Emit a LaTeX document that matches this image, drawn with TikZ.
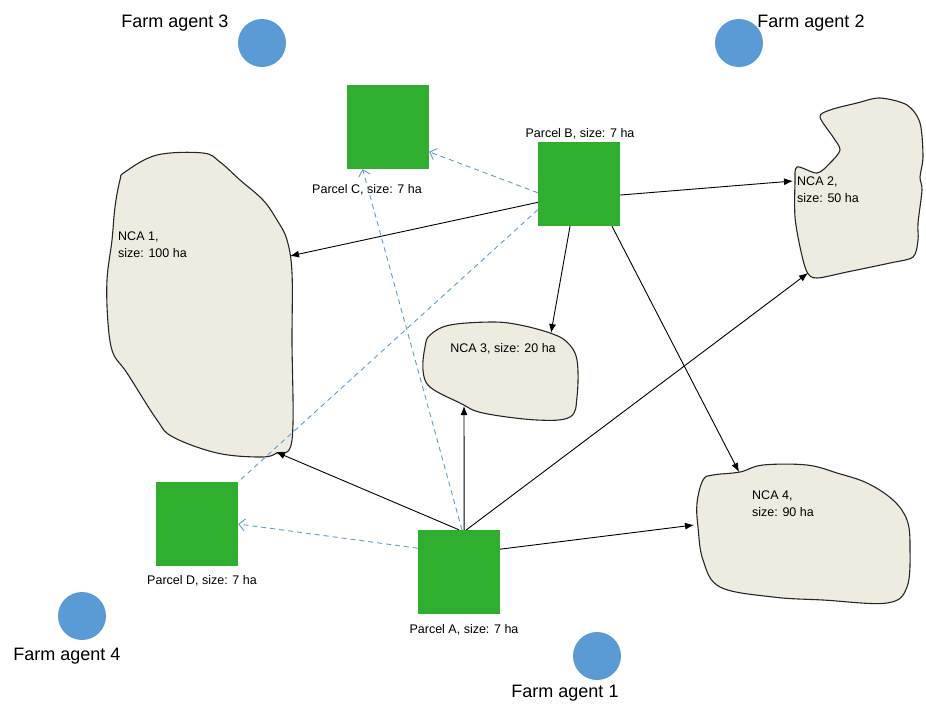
\documentclass[tikz,border=0pt]{standalone}
\usepackage{fontspec}
\setmainfont{Liberation Sans}
\usetikzlibrary{arrows.meta}
\definecolor{parcelgreen}{HTML}{2FAE2F}
\definecolor{agentblue}{HTML}{5B9BD5}
\definecolor{ncafill}{HTML}{EEECE1}

\begin{document}
\begin{tikzpicture}[x=1pt,y=-1pt,
  agent/.style={circle,fill=agentblue,minimum size=48pt,inner sep=0pt},
  parcel/.style={rectangle,fill=parcelgreen,minimum width=82pt,minimum height=84pt,inner sep=0pt},
  area/.style={draw=black!85,fill=ncafill,line width=1.1pt},
  small/.style={font=\fontsize{12.5}{17}\selectfont,inner sep=0pt},
  big/.style={font=\fontsize{18}{22}\selectfont,inner sep=0pt},
  flow/.style={-{Latex[length=9pt,width=7pt]},line width=0.9pt},
  offer/.style={agentblue,line width=0.9pt,dash pattern=on 5pt off 4pt}]
  \useasboundingbox (0,0) rectangle (926,705);

  % nature conservation areas
  \draw[area] plot[smooth cycle,tension=0.6] coordinates {(125,172) (157,155) (203,153) (220,162)
    (240,180) (263,200) (277,220) (287,240) (292,273) (292,340) (292,440) (277,453) (260,457)
    (217,453) (173,437) (157,420) (127,373) (113,353) (108,323) (107,280) (112,240) (115,207) (120,180)};
  \draw[area] plot[smooth cycle,tension=0.5] coordinates {(797,167) (817,173) (830,163) (840,150)
    (833,137) (820,117) (830,110) (857,103) (880,98) (907,105) (920,123) (923,157) (920,177)
    (922,190) (918,223) (918,240) (913,257) (890,263) (847,272) (817,278) (807,272) (800,247)
    (795,217) (795,183)};
  \draw[area] plot[smooth cycle,tension=0.6] coordinates {(430,335) (450,325) (493,322) (520,325)
    (550,333) (567,342) (577,360) (577,397) (570,417) (537,420) (483,413) (460,403) (430,387)
    (423,370) (425,347)};
  \draw[area] plot[smooth cycle,tension=0.6] coordinates {(713,475) (740,472) (763,465) (807,465)
    (837,473) (867,483) (893,500) (907,520) (910,547) (907,587) (887,603) (823,600) (773,597)
    (720,587) (703,560) (698,527) (697,503) (703,480)};

  \node[small,anchor=north west,align=left] (nca1) at (118,232) {NCA 1,\\size: 100 ha};
  \node[small,anchor=north west,align=left] (nca2) at (797,177) {NCA 2,\\size: 50 ha};
  \node[small] (nca3) at (503,349) {NCA 3, size: 20 ha};
  \node[small,anchor=north west,align=left] (nca4) at (752,491) {NCA 4,\\size: 90 ha};

  \coordinate (n1b) at (290,256);
  \coordinate (n1a) at (276,452);
  \coordinate (n2b) at (793,181);
  \coordinate (n2a) at (808,273);
  \coordinate (n3b) at (551,333);
  \coordinate (n3a) at (464,406);
  \coordinate (n4b) at (739,472);
  \coordinate (n4a) at (694,525);

  % parcels
  \node[parcel] (A) at (459,572) {};
  \node[parcel] (B) at (579,184) {};
  \node[parcel] (C) at (388,127) {};
  \node[parcel] (D) at (197,524) {};
  \node[small] (lblA) at (464,630) {Parcel A, size: 7 ha};
  \node[small] (lblB) at (580,134) {Parcel B, size: 7 ha};
  \node[small] (lblC) at (367,190) {Parcel C, size: 7 ha};
  \node[small] (lblD) at (202,581) {Parcel D, size: 7 ha};

  % farm agents
  \node[agent] (fa1) at (597,656) {};
  \node[agent] (fa2) at (739,43) {};
  \node[agent] (fa3) at (262,43) {};
  \node[agent] (fa4) at (82,616) {};
  \node[big] (lbl1) at (565,693) {Farm agent 1};
  \node[big] (lbl2) at (811,23) {Farm agent 2};
  \node[big] (lbl3) at (175,23) {Farm agent 3};
  \node[big] (lbl4) at (67,656) {Farm agent 4};

  \draw[flow] (B.-156) -- (n1b);
  \draw[flow] (B.-15) -- (n2b);
  \draw[flow] (B.-102) -- (n3b);
  \draw[flow] (B.-52) -- (n4b);
  \draw[flow] (A.north) -- (n1a);
  \draw[flow] (A.83) -- (n3a);
  \draw[flow] (A.80) -- (n2a);
  \draw[flow] (A.29) -- (n4a);

  \draw[offer,-{Straight Barb[length=6pt,width=12pt]}] (B.-168) -- (C.-31);
  \draw[offer,-{Straight Barb[length=6pt,width=12pt]}] (A.86) -- (C.-121);
  \draw[offer,-{Straight Barb[length=6pt,width=12pt]}] (A.150) -- (D.east);
  \draw[offer] (B.-148) -- (D.north east);
\end{tikzpicture}
\end{document}
